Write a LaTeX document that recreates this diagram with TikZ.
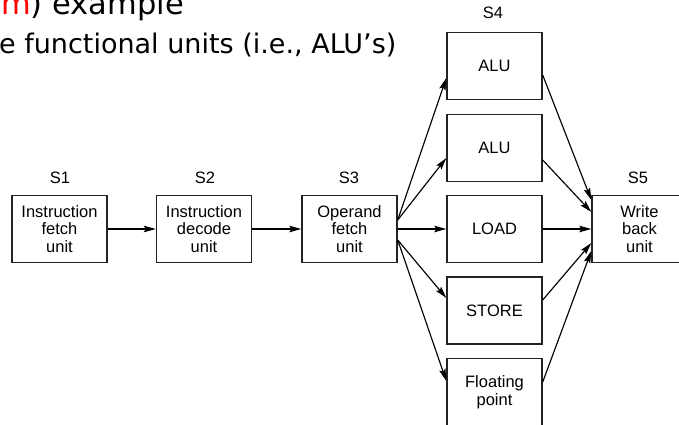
\documentclass[tikz,border=0pt]{standalone}
\usepackage{fontspec}
\setmainfont{Liberation Sans}
\newfontfamily\headfont{DejaVu Sans}
\usetikzlibrary{arrows.meta}
\definecolor{boxline}{RGB}{35,35,35}
\begin{document}
\begin{tikzpicture}[x=1pt,y=-1pt,
  unitbox/.style={draw=boxline, line width=1.4pt, minimum width=95pt,
    minimum height=67pt, inner sep=0pt, align=center,
    font=\fontsize{16.5}{17.5}\selectfont},
  stagelabel/.style={inner sep=0pt, font=\fontsize{16.5}{17.5}\selectfont},
  flow/.style={line width=1.15pt, -{Stealth[length=12pt,width=6.5pt,inset=2pt]}}]
\clip (0,0) rectangle (679,425);

% heading lines
\node[anchor=base west, inner sep=0pt, font=\headfont\fontsize{30.5}{36}\selectfont]
  (head) at (1,15) {\textcolor{red}{m}) example};
\node[anchor=base west, inner sep=0pt, font=\headfont\fontsize{27}{32}\selectfont]
  (subhead) at (-1,54) {e functional units (i.e., ALU’s)};

% pipeline stages
\node[unitbox] (s1) at (59.5,229) {Instruction\\fetch\\unit};
\node[unitbox] (s2) at (204,229) {Instruction\\decode\\unit};
\node[unitbox] (s3) at (349.5,229) {Operand\\fetch\\unit};
\node[unitbox] (alu1) at (494.5,66) {ALU};
\node[unitbox] (alu2) at (494.5,148) {ALU};
\node[unitbox] (load) at (494.5,229) {LOAD};
\node[unitbox] (store) at (494.5,310.5) {STORE};
\node[unitbox] (fp) at (494.5,392) {Floating\\point};
\node[unitbox] (s5) at (639.5,229) {Write\\back\\unit};

% stage labels
\node[stagelabel] (l1) at (60,178) {S1};
\node[stagelabel] (l2) at (205,178) {S2};
\node[stagelabel] (l3) at (349,178) {S3};
\node[stagelabel] (l4) at (493,13) {S4};
\node[stagelabel] (l5) at (638,178) {S5};

% connections
\draw[flow] (s1) -- (s2);
\draw[flow] (s2) -- (s3);
\draw[flow] ([yshift=9pt]s3.east) -- ([yshift=-12pt]alu1.west);
\draw[flow] ([yshift=9pt]s3.east) -- ([yshift=-10pt]alu2.west);
\draw[flow] (s3) -- (load);
\draw[flow] ([yshift=-11pt]s3.east) -- ([yshift=12.5pt]store.west);
\draw[flow] ([yshift=-11pt]s3.east) -- ([yshift=11pt]fp.west);

\draw[flow] ([yshift=-9pt]alu1.east) -- ([yshift=29pt]s5.west);
\draw[flow] ([yshift=-12pt]alu2.east) -- ([yshift=17pt]s5.west);
\draw[flow] (load) -- (s5);
\draw[flow] ([yshift=10.5pt]store.east) -- ([yshift=-14pt]s5.west);
\draw[flow] ([yshift=10pt]fp.east) -- ([yshift=-22pt]s5.west);
\end{tikzpicture}
\end{document}
